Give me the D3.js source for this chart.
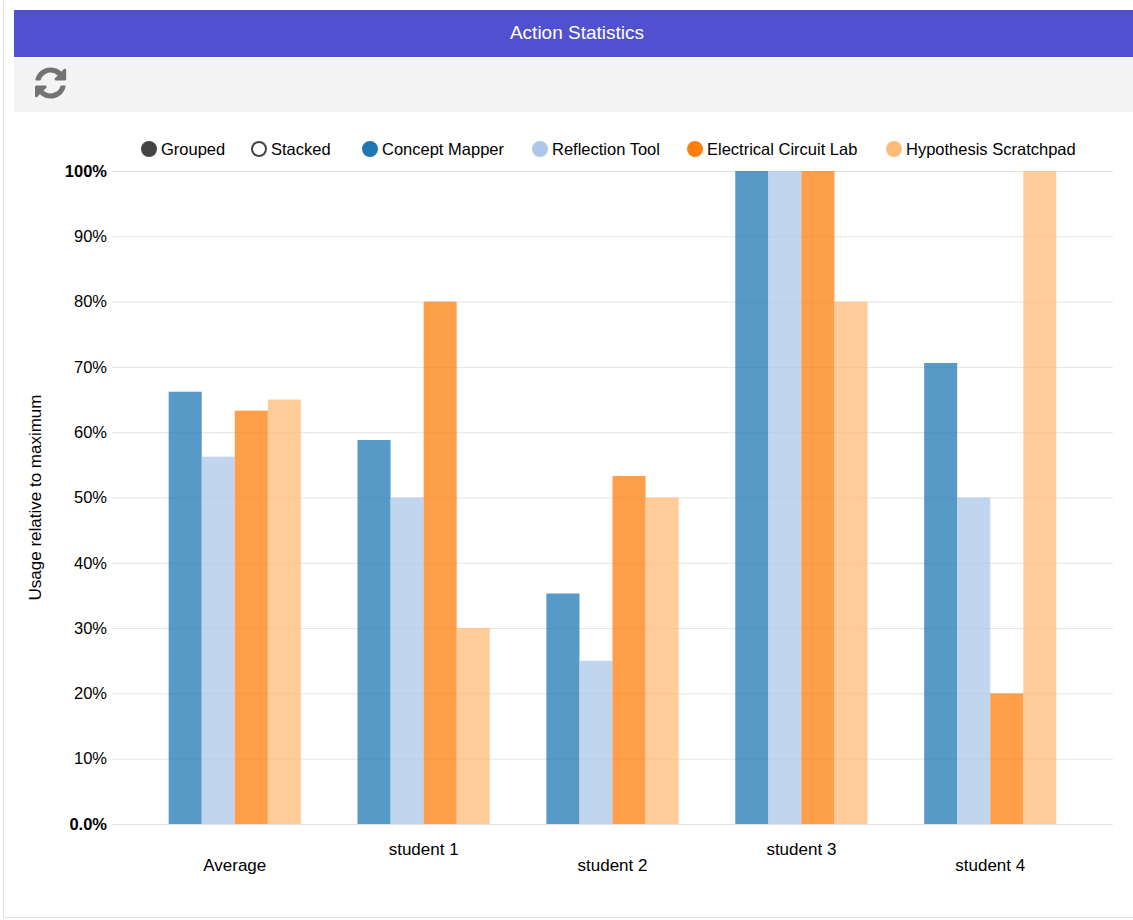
<!DOCTYPE html>
<html>
<head>
<meta charset="utf-8">
<script src="https://cdn.jsdelivr.net/npm/d3@7"></script>
<style>
  body { margin: 0; background: #fff; font-family: "Liberation Sans", Arial, sans-serif; }
  svg text { font-family: "Liberation Sans", Arial, sans-serif; }
</style>
</head>
<body>
<div id="d3-container"></div>
<script>
const groups = ["Average", "student 1", "student 2", "student 3", "student 4"];
const seriesNames = ["Concept Mapper", "Reflection Tool", "Electrical Circuit Lab", "Hypothesis Scratchpad"];
const conceptMapper = [66.2, 58.8, 35.3, 100, 70.6];
const reflectionTool = [56.25, 50, 25, 100, 50];
const circuitLab = [63.3, 80, 53.3, 100, 20];
const scratchpad = [65, 30, 50, 80, 100];
const yTicks = [0, 10, 20, 30, 40, 50, 60, 70, 80, 90, 100];
const yTickLabels = ["0.0%", "10%", "20%", "30%", "40%", "50%", "60%", "70%", "80%", "90%", "100%"];
const colors = ["#1f77b4", "#aec7e8", "#ff7f0e", "#ffbb78"];

const seriesValues = [conceptMapper, reflectionTool, circuitLab, scratchpad];

const width = 1133;
const height = 920;
const margin = { top: 171, bottom: 96, left: 112, right: 19 };

const svg = d3.select('#d3-container')
  .append('svg')
  .attr('width', width)
  .attr('height', height);

// panel frame, header and toolbar
svg.append('path')
  .attr('d', 'M3.5,0 V917.5 H1133')
  .attr('fill', 'none')
  .attr('stroke', '#e2e2e2');

svg.append('rect')
  .attr('x', 14).attr('y', 10)
  .attr('width', width - 14).attr('height', 47)
  .attr('fill', '#5050d0');

svg.append('text')
  .attr('x', 577).attr('y', 39)
  .attr('text-anchor', 'middle')
  .attr('fill', '#fff')
  .attr('font-size', '19px')
  .text('Action Statistics');

svg.append('rect')
  .attr('x', 14).attr('y', 58)
  .attr('width', width - 14).attr('height', 54)
  .attr('fill', '#f4f4f4');

// refresh icon
svg.append('path')
  .attr('transform', 'translate(35,67.4) scale(0.0203)')
  .attr('fill', '#737373')
  .attr('d', 'M1511 928q0 5-1 7-64 268-268 434.5t-478 166.5q-146 0-282.5-55t-243.5-157l-129 129q-19 19-45 19t-45-19-19-45v-448q0-26 19-45t45-19h448q26 0 45 19t19 45-19 45l-137 137q71 66 161 102t187 36q134 0 250-65t186-179q11-17 53-117 8-23 30-23h192q13 0 22.5 9.5t9.5 22.5zm25-800v448q0 26-19 45t-45 19h-448q-26 0-45-19t-19-45 19-45l138-138q-148-137-349-137-134 0-250 65t-186 179q-11 17-53 117-8 23-30 23h-199q-13 0-22.5-9.5t-9.5-22.5v-7q65-268 270-434.5t480-166.5q146 0 284 55.5t245 156.5l130-129q19-19 45-19t45 19 19 45z');

// scales
const x0 = d3.scaleBand()
  .domain(groups)
  .range([margin.left, width - margin.right - 1])
  .padding(0.3);

const x1 = d3.scaleBand()
  .domain(d3.range(seriesNames.length))
  .range([0, x0.bandwidth()]);

const y = d3.scaleLinear()
  .domain([0, 100])
  .range([height - margin.bottom, margin.top]);

// grid + y axis
const yAxis = svg.append('g')
  .attr('transform', `translate(${margin.left},0)`)
  .call(d3.axisLeft(y)
    .tickValues(yTicks)
    .tickSize(-(width - margin.left - margin.right - 1))
    .tickPadding(5)
    .tickFormat((d, i) => yTickLabels[i]));
yAxis.select('.domain').remove();
yAxis.selectAll('line').attr('stroke', '#e5e5e5');
yAxis.selectAll('text')
  .attr('font-size', '16.5px')
  .attr('fill', '#000')
  .attr('font-weight', (d, i) => (i === 0 || i === yTicks.length - 1) ? 'bold' : 'normal');

svg.append('text')
  .attr('transform', `translate(41,${(y(0) + y(100)) / 2}) rotate(-90)`)
  .attr('text-anchor', 'middle')
  .attr('font-size', '17px')
  .attr('fill', '#000')
  .text('Usage relative to maximum');

// bars
svg.append('g')
  .selectAll('g')
  .data(seriesValues)
  .join('g')
  .attr('fill', (d, i) => colors[i])
  .attr('fill-opacity', 0.75)
  .selectAll('rect')
  .data((vals, si) => vals.map((v, gi) => ({ v, gi, si })))
  .join('rect')
  .attr('x', d => x0(groups[d.gi]) + x1(d.si))
  .attr('y', d => y(d.v))
  .attr('width', x1.bandwidth())
  .attr('height', d => y(0) - y(d.v));

// x axis labels (staggered)
const xAxis = svg.append('g')
  .attr('transform', `translate(0,${y(0)})`)
  .call(d3.axisBottom(x0).tickSize(0).tickPadding(0));
xAxis.select('.domain').remove();
xAxis.selectAll('text')
  .attr('dy', null)
  .attr('y', (d, i) => i % 2 === 0 ? 47 : 31)
  .attr('font-size', '17px')
  .attr('fill', '#000');

// legend
const legendItems = [
  { label: 'Grouped', cx: 149, fill: '#444', stroke: '#444' },
  { label: 'Stacked', cx: 259, fill: '#fff', stroke: '#444' },
].concat(seriesNames.map((s, i) => ({
  label: s, cx: [370, 540, 695, 894][i], fill: colors[i], stroke: colors[i]
})));

const legend = svg.append('g')
  .selectAll('g')
  .data(legendItems)
  .join('g')
  .attr('transform', d => `translate(${d.cx},149)`);

legend.append('circle')
  .attr('r', 7)
  .attr('fill', d => d.fill)
  .attr('stroke', d => d.stroke)
  .attr('stroke-width', 2);

legend.append('text')
  .attr('x', 12)
  .attr('y', 6)
  .attr('font-size', '16.5px')
  .attr('fill', '#000')
  .text(d => d.label);
</script>
</body>
</html>
